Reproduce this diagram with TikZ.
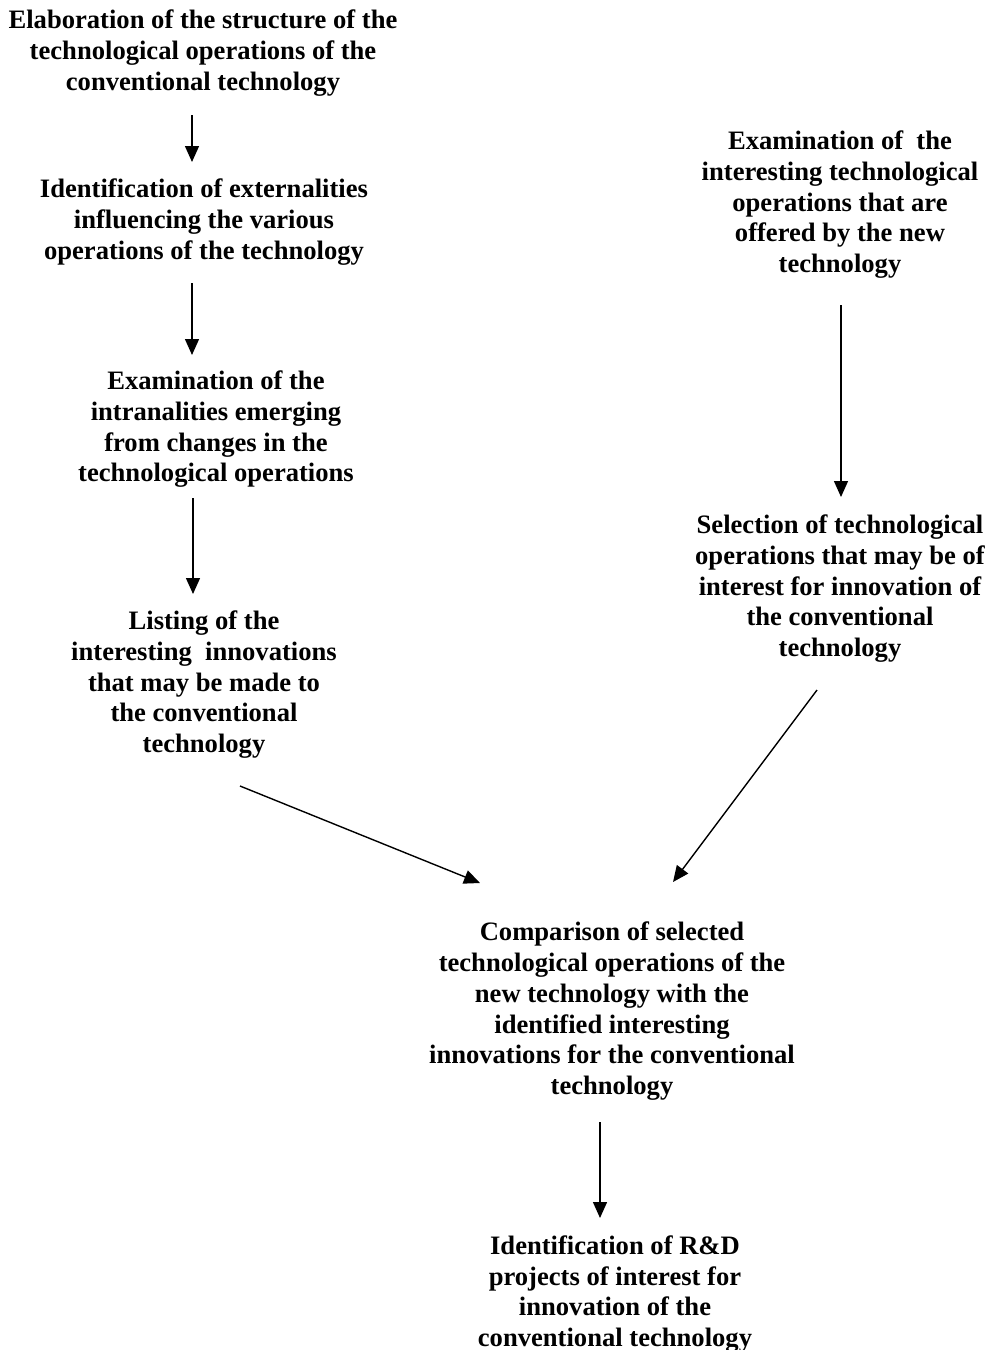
\documentclass[tikz,border=0pt]{standalone}
\usepackage{fontspec}
\setmainfont{Liberation Serif}
\usetikzlibrary{arrows.meta}
\usetikzlibrary{positioning}

\tikzset{
  stage/.style={font=\fontsize{26.6}{30.7}\selectfont\bfseries, align=center, inner sep=0pt, anchor=base},
  flow/.style={line width=1.4pt, -{Triangle[length=16pt,width=14pt]}}
}

\begin{document}
\begin{tikzpicture}[x=1pt,y=-1pt]
      \useasboundingbox (0,0) rectangle (990,1350);

      % left column (base = last line)
      \node[stage] (elab) at (203,90) {Elaboration of the structure of the\\technological operations of the\\conventional technology};
      \node[stage] (extern) at (204,259) {Identification of externalities\\influencing the various\\operations of the technology};
      \node[stage] (intra) at (216,481.8) {Examination of the\\intranalities emerging\\from changes in the\\technological operations};
      \node[stage] (listing) at (204,752.6) {Listing of the\\interesting\ \ innovations\\that may be made to\\the conventional\\technology};

      % right column
      \node[stage] (offer) at (840,272.6) {Examination of\ \ the\\interesting technological\\operations that are\\offered by the new\\technology};
      \node[stage] (select) at (840,656.6) {Selection of technological\\operations that may be of\\interest for innovation of\\the conventional\\technology};

      % bottom
      \node[stage] (compare) at (612,1094.4) {Comparison of selected\\technological operations of the\\new technology with the\\identified interesting\\innovations for the conventional\\technology};
      \node[stage] (rnd) at (615,1346.6) {Identification of R\&D\\projects of interest for\\innovation of the\\conventional technology};

      % arrow ends
      \coordinate (e1a) at (192,115);
      \coordinate (e1b) at (192,162);
      \coordinate (e2a) at (192,283);
      \coordinate (e2b) at (192,355);
      \coordinate (e3a) at (193,498);
      \coordinate (e3b) at (193,594);
      \coordinate (e4a) at (240,786);
      \coordinate (e4b) at (480,883);
      \coordinate (e5a) at (841,305);
      \coordinate (e5b) at (841,497);
      \coordinate (e6a) at (817,690);
      \coordinate (e6b) at (673,882);
      \coordinate (e7a) at (600,1122);
      \coordinate (e7b) at (600,1218);

      \draw[flow] (e1a) -- (e1b);
      \draw[flow] (e2a) -- (e2b);
      \draw[flow] (e3a) -- (e3b);
      \draw[flow] (e4a) -- (e4b);
      \draw[flow] (e5a) -- (e5b);
      \draw[flow] (e6a) -- (e6b);
      \draw[flow] (e7a) -- (e7b);
\end{tikzpicture}
\end{document}
